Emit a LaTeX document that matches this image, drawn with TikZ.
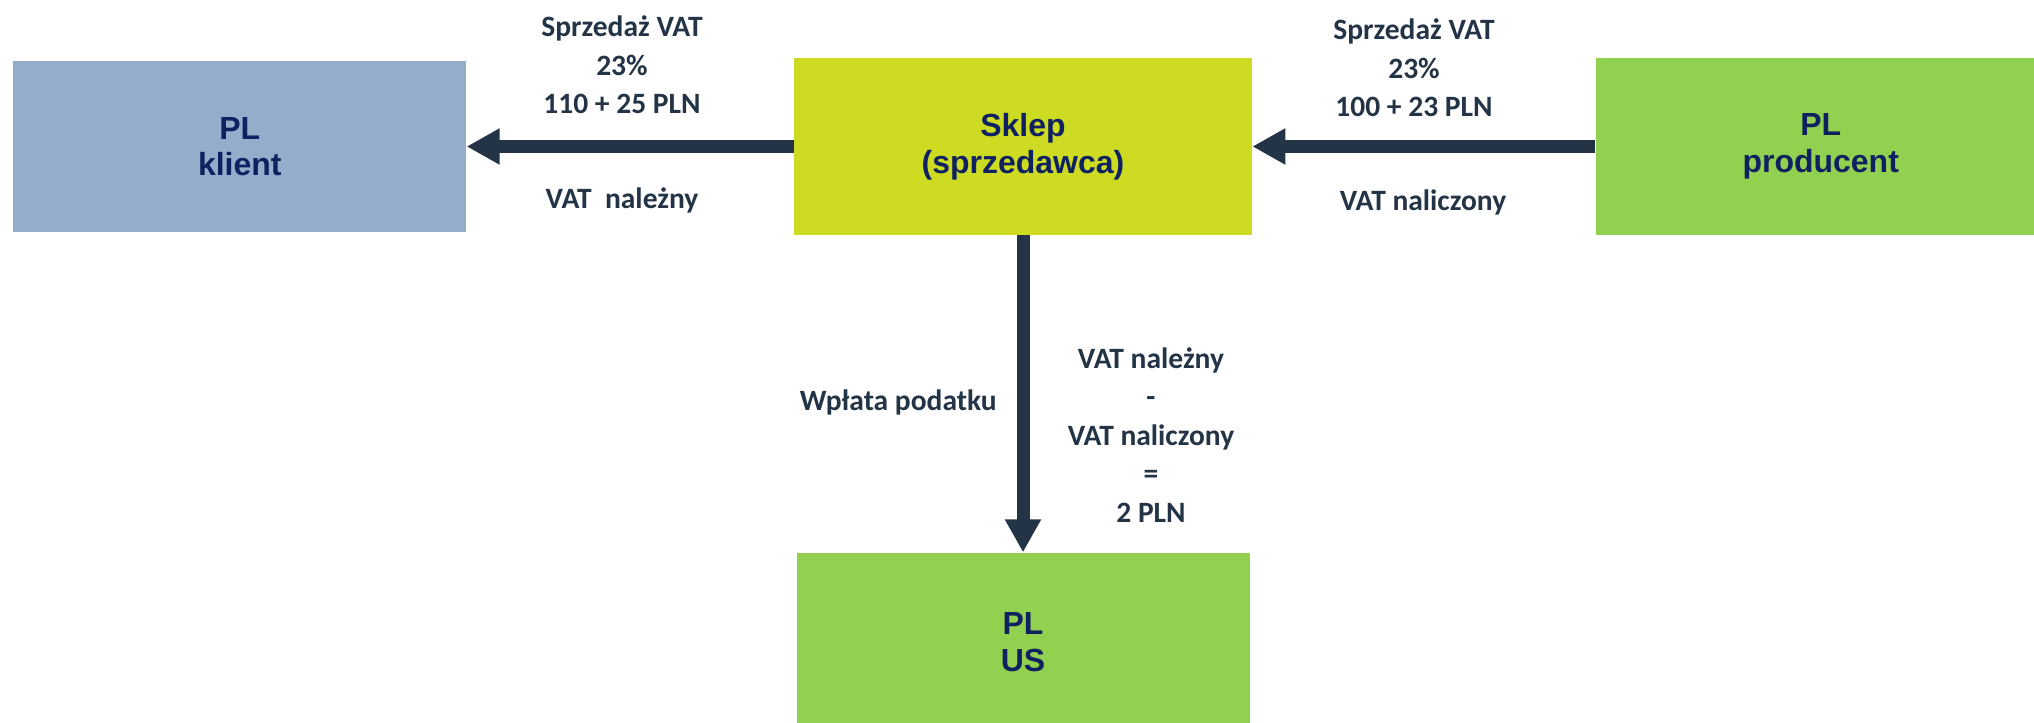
\documentclass[tikz,border=0pt]{standalone}
\usepackage{fontspec}
\setmainfont{Liberation Sans}
\newfontfamily\lblfont{Carlito}
\usetikzlibrary{arrows.meta,positioning}

\definecolor{klientblue}{HTML}{95ACCB}
\definecolor{sklepgreen}{HTML}{CDDC22}
\definecolor{plgreen}{HTML}{92D050}
\definecolor{boxtext}{HTML}{0F2160}
\definecolor{flowdark}{HTML}{243447}

\tikzset{
  party/.style = {rectangle, inner sep = 0pt, align = center, text = boxtext,
                  font = \fontsize{18.2}{20.8}\selectfont\bfseries},
  flow/.style  = {line width = 2.6mm, draw = flowdark,
                  -{Triangle[length = 6.6mm, width = 6.8mm]}},
  lbl/.style   = {align = center, text = flowdark, inner sep = 0pt,
                  font = \lblfont\fontsize{16.8}{21.9}\selectfont\bfseries}
}

\begin{document}
\begin{tikzpicture}[x = 0.2mm, y = 0.2mm]

            \useasboundingbox (0,0) rectangle (2034,723);

            \node [party, fill = sklepgreen, minimum width = 91.6mm, minimum height = 35.4mm] (sklep) at (1023,576.5) {Sklep\\(sprzedawca)};
            \node [party, fill = klientblue, minimum width = 90.6mm, minimum height = 34.2mm, left = 65.4mm of sklep] (klient) {PL\\klient};
            \node [party, fill = plgreen, minimum width = 90mm, minimum height = 35.4mm, right = 68.6mm of sklep] (producent) {PL\\producent};
            \node [party, fill = plgreen, minimum width = 90.6mm, minimum height = 35.8mm, below = 63.4mm of sklep] (us) {PL\\US};

            \draw [flow] (sklep.west) -- (klient.east |- sklep.west);
            \draw [flow] (producent.west) -- (sklep.east);
            \draw [flow] (sklep.south) -- (us.north);

            \node [lbl] (sprzedazL) at (622,658) {Sprzedaż VAT\\23\%\\110 + 25 PLN};
            \node [lbl] (nalezny) at (622,523) {VAT\ \ należny};
            \node [lbl] (sprzedazR) at (1414,655) {Sprzedaż VAT\\23\%\\100 + 23 PLN};
            \node [lbl] (naliczony) at (1423,521) {VAT naliczony};
            \node [lbl, anchor = east] (wplata) at (997,321) {Wpłata podatku};
            \node [lbl] (rozliczenie) at (1151,288) {VAT należny\\-\\VAT naliczony\\=\\2 PLN};

\end{tikzpicture}
\end{document}
